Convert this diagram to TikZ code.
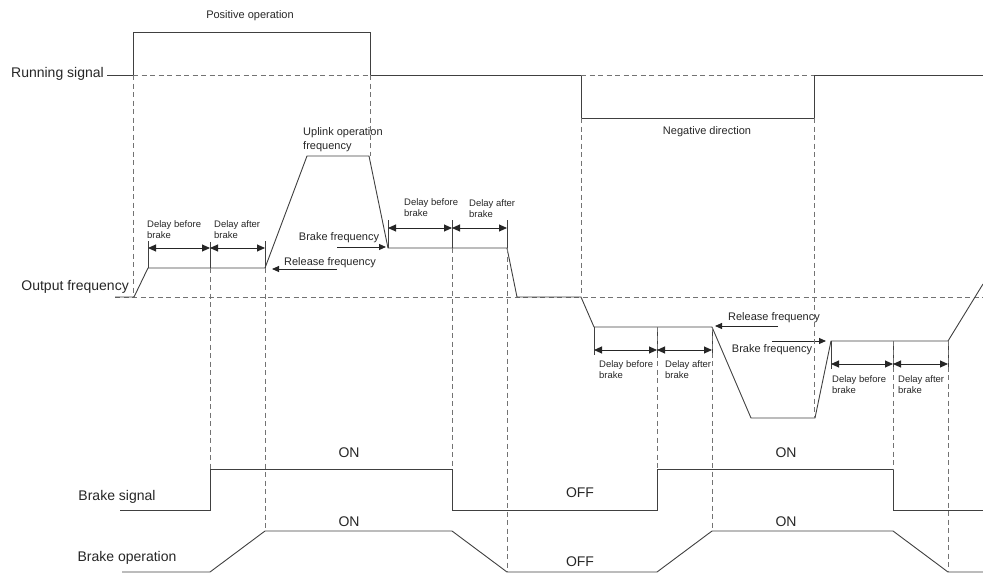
\documentclass[tikz,border=0pt]{standalone}
\usepackage{fontspec}
\setmainfont{Liberation Sans}
\usetikzlibrary{arrows.meta, calc, positioning}

\tikzset{
  wave/.style={draw=black!75, line width=0.9pt},
  guide/.style={draw=black!55, line width=0.7pt, dash pattern=on 5pt off 3.5pt},
  dim/.style={black!85, line width=0.9pt, {Triangle[length=8pt,width=7pt]}-{Triangle[length=8pt,width=7pt]}},
  ptr/.style={black!85, line width=0.9pt, -{Triangle[length=7pt,width=6pt]}},
  biglbl/.style={font=\fontsize{14}{16}\selectfont, text=black!85, inner sep=0pt},
  midlbl/.style={font=\fontsize{11}{14}\selectfont, text=black!85, inner sep=0pt},
  smalllbl/.style={font=\fontsize{9.5}{11}\selectfont, text=black!85, inner sep=0pt, align=left, anchor=north west},
}

\begin{document}
\begin{tikzpicture}[x=1pt, y=-1pt]
\useasboundingbox (0,0) rectangle (983,573);

% Running signal
\node[biglbl, anchor=east] (run) at (104,74) {Running signal};
\draw[wave] (107,75) -- (133,75) -- (133,32) -- (370,32) -- (370,75) -- (581,75)
  -- (581,118) -- (814,118) -- (814,75) -- (983,75);
\draw[guide] (133,75) -- (370,75) (581,75) -- (814,75);
\node[midlbl] (posop) at (250,16) {Positive operation};
\node[midlbl] (negdir) at (707,132) {Negative direction};

% Output frequency
\node[biglbl, anchor=east] (outf) at (129,287) {Output frequency};
\draw[guide] (115,297) -- (983,297);
\draw[wave] (115,297) -- (134,297) -- (148,268) -- (265,268) -- (307,156) -- (369,156)
  -- (388,248) -- (507,248) -- (517,297) -- (581,297) -- (594,327) -- (712,327)
  -- (751,418) -- (815,418) -- (831,341) -- (948,341) -- (983,284);

% delay ticks and arrows
\draw[wave] (148,268) -- (148,241) (210,268) -- (210,242) (265,268) -- (265,241);
\draw[wave] (388,248) -- (388,220) (452,248) -- (452,220) (507,248) -- (507,220);
\draw[wave] (594,327) -- (594,355) (657,327) -- (657,355) (712,327) -- (712,355);
\draw[wave] (831,341) -- (831,369) (893,341) -- (893,369) (948,341) -- (948,369);
\foreach \a/\b/\y in {148/210/248, 210/265/248, 388/452/228, 452/507/228,
                      594/657/350, 657/712/350, 831/893/364, 893/948/364}
  \draw[dim] (\a,\y) -- (\b,\y);

\node[smalllbl] (dbefA) at (147,220) {Delay before\\brake};
\node[smalllbl] (daftA) at (214,220) {Delay after\\brake};
\node[smalllbl] (dbefB) at (404,198) {Delay before\\brake};
\node[smalllbl] (daftB) at (469,199) {Delay after\\brake};
\node[smalllbl] (dbefC) at (599,360) {Delay before\\brake};
\node[smalllbl] (daftC) at (665,360) {Delay after\\brake};
\node[smalllbl] (dbefD) at (832,375) {Delay before\\brake};
\node[smalllbl] (daftD) at (898,375) {Delay after\\brake};

% frequency labels
\node[midlbl, align=left, anchor=north west] (uplink) at (303,127) {Uplink operation\\frequency};
\node[midlbl] (brkA) at (339,238) {Brake frequency};
\draw[ptr] (337,247) -- (386,247);
\node[midlbl] (relA) at (330,263) {Release frequency};
\draw[ptr] (337,269) -- (272,269);
\node[midlbl] (relB) at (774,318) {Release frequency};
\draw[ptr] (778,326) -- (715,326);
\node[midlbl] (brkB) at (772,350) {Brake frequency};
\draw[ptr] (772,341) -- (826,341);

% Brake signal
\node[biglbl] (bsig) at (117,497) {Brake signal};
\draw[wave] (120,510) -- (210,510) -- (210,469) -- (452,469) -- (452,510) -- (657,510)
  -- (657,469) -- (893,469) -- (893,510) -- (983,510);
\node[biglbl] (sigonA) at (349,453) {ON};
\node[biglbl] (sigoff) at (580,493) {OFF};
\node[biglbl] (sigonB) at (786,453) {ON};

% Brake operation
\node[biglbl] (bop) at (127,558) {Brake operation};
\draw[wave] (122,572) -- (210,572) -- (265,531) -- (452,531) -- (507,572) -- (657,572)
  -- (712,531) -- (893,531) -- (948,572) -- (983,572);
\node[biglbl] (oponA) at (349,522) {ON};
\node[biglbl] (opoff) at (580,562) {OFF};
\node[biglbl] (oponB) at (786,522) {ON};

% guides
\foreach \x/\ya/\yb in {133/75/297, 210/268/469, 265/268/531, 370/75/156, 452/248/469,
                        507/248/572, 581/118/297, 657/327/469, 712/327/531, 814/118/418,
                        893/341/469, 948/341/572}
  \draw[guide] (\x,\ya) -- (\x,\yb);

\end{tikzpicture}
\end{document}
